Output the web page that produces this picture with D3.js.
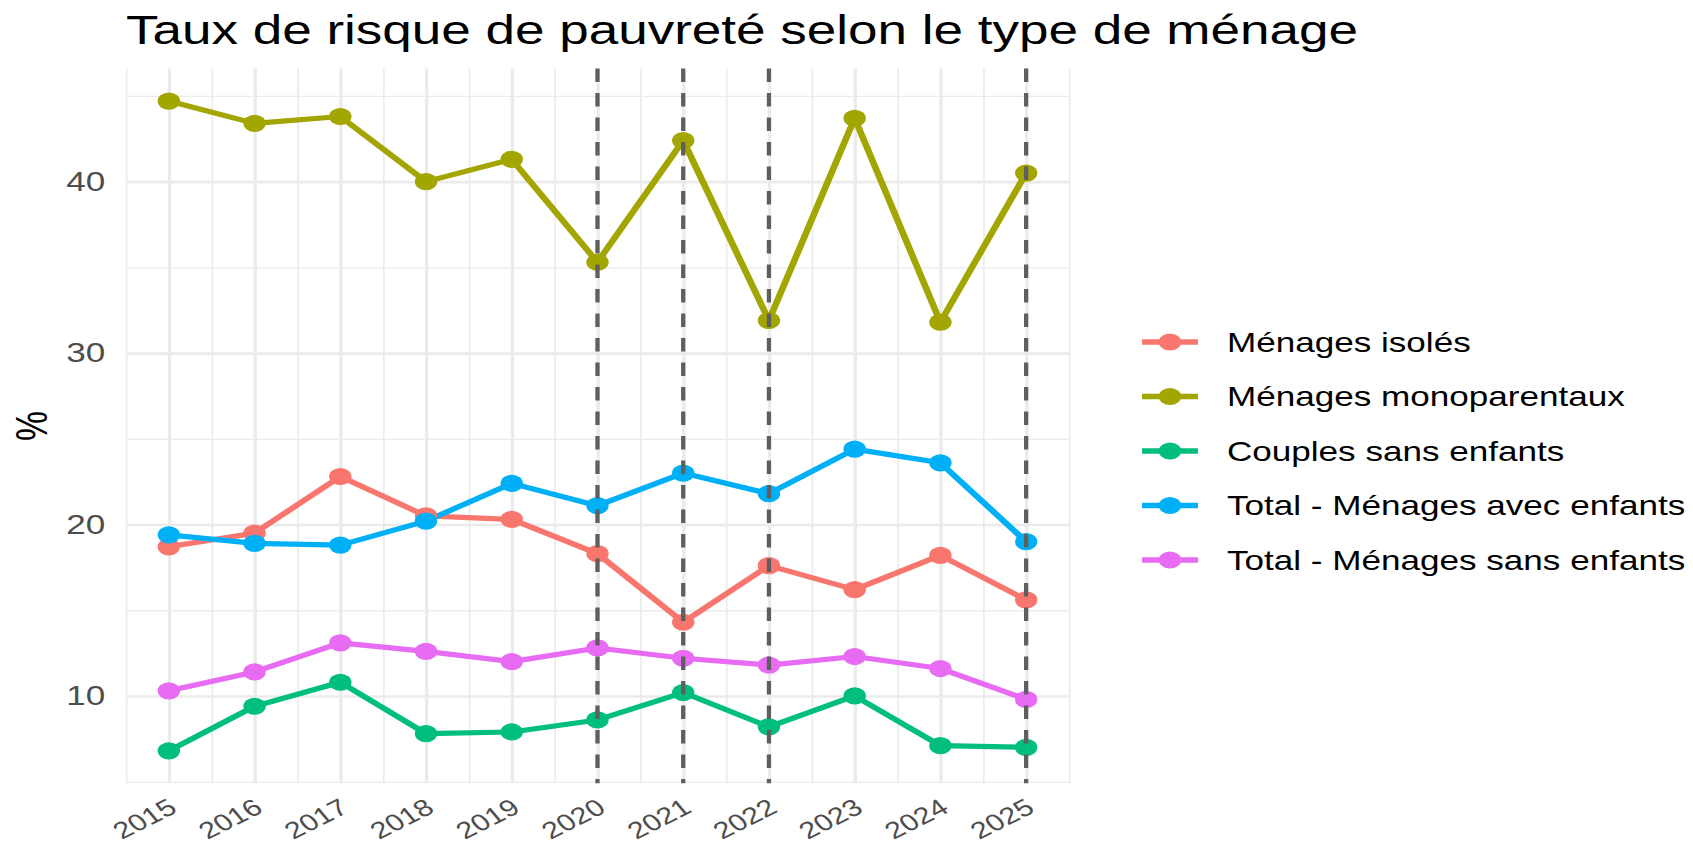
<!DOCTYPE html>
<html>
<head>
<meta charset="utf-8">
<script src="https://cdn.jsdelivr.net/npm/d3@7"></script>
<style>
  html, body { margin: 0; padding: 0; background: #ffffff; }
  svg { display: block; }
  text { font-family: "Liberation Sans", Arial, Helvetica, sans-serif; }
</style>
</head>
<body>
<svg id="chart"></svg>
<script>
// ---- data ----
const years = [2015, 2016, 2017, 2018, 2019, 2020, 2021, 2022, 2023, 2024, 2025];
const seriesNames = [
  "Ménages isolés",
  "Ménages monoparentaux",
  "Couples sans enfants",
  "Total - Ménages avec enfants",
  "Total - Ménages sans enfants"
];
const menagesIsoles       = [18.7, 19.5, 22.8, 20.5, 20.3, 18.3, 14.3, 17.6, 16.2, 18.2, 15.6];
const menagesMonoparent   = [44.7, 43.4, 43.8, 40.0, 41.3, 35.3, 42.4, 31.9, 43.7, 31.8, 40.5];
const couplesSansEnfants  = [6.8, 9.4, 10.8, 7.8, 7.9, 8.6, 10.2, 8.2, 10.0, 7.1, 7.0];
const totalAvecEnfants    = [19.4, 18.9, 18.8, 20.2, 22.4, 21.1, 23.0, 21.8, 24.4, 23.6, 19.0];
const totalSansEnfants    = [10.3, 11.4, 13.1, 12.6, 12.0, 12.8, 12.2, 11.8, 12.3, 11.6, 9.8];
const markedYears = [2020, 2021, 2022, 2025];
const yTicks = [10, 20, 30, 40];
const yMinorTicks = [5, 15, 25, 35, 45];
const colors = ["#F8766D", "#A3A500", "#00BF7D", "#00B0F6", "#E76BF3"];
const titleText = "Taux de risque de pauvreté selon le type de ménage";
const yTitle = "%";

const seriesValues = [menagesIsoles, menagesMonoparent, couplesSansEnfants, totalAvecEnfants, totalSansEnfants];
const series = seriesNames.map((name, i) => ({
  name, color: colors[i],
  values: years.map((yr, j) => ({ year: yr, value: seriesValues[i][j] }))
}));

// ---- layout (drawn in a narrower frame, stretched horizontally like the reference) ----
const W = 1693, H = 846, K = 1.3;
const IW = W / K;
const panel = { left: 96.9, right: 822.3, top: 68.6, bottom: 783.3 };
const fs = 27;
const fsX = 23.5;

const svg = d3.select("#chart")
  .attr("width", W).attr("height", H)
  .attr("viewBox", `0 0 ${IW} ${H}`)
  .attr("preserveAspectRatio", "none");

const allVals = seriesValues.flat();
const vmin = d3.min(allVals), vmax = d3.max(allVals);
const pad = (vmax - vmin) * 0.05;
const y = d3.scaleLinear().domain([vmin - pad, vmax + pad]).range([panel.bottom, panel.top]);
const xPad = (d3.max(years) - d3.min(years)) * 0.05;
const x = d3.scaleLinear().domain([d3.min(years) - xPad, d3.max(years) + xPad]).range([panel.left, panel.right]);
const xMinor = d3.range(d3.min(years) - 0.5, d3.max(years) + 1, 1);

const pw = panel.right - panel.left, ph = panel.bottom - panel.top;

// minor grid
svg.append("g").attr("transform", `translate(${panel.left},0)`)
  .call(d3.axisLeft(y).tickValues(yMinorTicks.filter(v => v >= y.domain()[0] && v <= y.domain()[1])).tickSize(-pw).tickFormat(""))
  .call(g => g.select(".domain").remove())
  .call(g => g.selectAll("line").attr("stroke", "#ebebeb").attr("stroke-width", 1.3));
svg.append("g").attr("transform", `translate(0,${panel.bottom})`)
  .call(d3.axisBottom(x).tickValues(xMinor).tickSize(-ph).tickFormat(""))
  .call(g => g.select(".domain").remove())
  .call(g => g.selectAll("line").attr("stroke", "#ebebeb").attr("stroke-width", 1.3));

// major grid + y labels
svg.append("g").attr("transform", `translate(${panel.left},0)`)
  .call(d3.axisLeft(y).tickValues(yTicks).tickSize(-pw).tickPadding(16).tickFormat(d3.format("d")))
  .call(g => g.select(".domain").remove())
  .call(g => g.selectAll("line").attr("stroke", "#ebebeb").attr("stroke-width", 2.6))
  .call(g => g.selectAll("text").attr("fill", "#4d4d4d").attr("font-size", fs)
      .style("font-family", '"Liberation Sans", Arial, sans-serif'));

// major x grid + labels
svg.append("g").attr("transform", `translate(0,${panel.bottom})`)
  .call(d3.axisBottom(x).tickValues(years).tickSize(-ph).tickFormat(d3.format("d")))
  .call(g => g.select(".domain").remove())
  .call(g => g.selectAll("line").attr("stroke", "#ebebeb").attr("stroke-width", 2.6))
  .call(g => g.selectAll("text")
      .attr("fill", "#4d4d4d").attr("font-size", fsX)
      .style("font-family", '"Liberation Sans", Arial, sans-serif')
      .attr("text-anchor", "end")
      .attr("x", 0).attr("y", 0).attr("dy", "0.72em")
      .attr("transform", "translate(-2,14) rotate(-33)"));

// lines
const line = d3.line().x(d => x(d.year)).y(d => y(d.value));
svg.append("g").selectAll("path").data(series).join("path")
  .attr("d", d => line(d.values))
  .attr("fill", "none").attr("stroke", d => d.color)
  .attr("stroke-width", 5.2).attr("stroke-linejoin", "round").attr("stroke-linecap", "butt");

// points
svg.append("g").selectAll("g").data(series).join("g")
  .attr("fill", d => d.color)
  .selectAll("circle").data(d => d.values).join("circle")
  .attr("cx", d => x(d.year)).attr("cy", d => y(d.value)).attr("r", 8.6);

// dashed vertical lines
svg.append("g").selectAll("line").data(markedYears).join("line")
  .attr("x1", d => x(d)).attr("x2", d => x(d))
  .attr("y1", panel.top).attr("y2", panel.bottom)
  .attr("stroke", "#5f5f5f").attr("stroke-width", 3.3)
  .attr("stroke-dasharray", "13.5,11");

// title
svg.append("text").attr("x", panel.left).attr("y", 44.3)
  .attr("font-size", 40.8).attr("fill", "#000").text(titleText);

// y-axis title
svg.append("text")
  .attr("transform", `translate(24.6,${(panel.top + panel.bottom) / 2}) rotate(-90)`)
  .attr("text-anchor", "middle").attr("dominant-baseline", "central")
  .attr("font-size", 33.75).attr("fill", "#000").text(yTitle);

// legend
const legend = svg.append("g");
const row = legend.selectAll("g").data(series).join("g")
  .attr("transform", (d, i) => `translate(0,${342 + i * 54.5})`);
row.append("line").attr("x1", 878.5).attr("x2", 921.5).attr("y1", 0).attr("y2", 0)
  .attr("stroke", d => d.color).attr("stroke-width", 5.5);
row.append("circle").attr("cx", 900).attr("cy", 0).attr("r", 8.6).attr("fill", d => d.color);
row.append("text").attr("x", 943.8).attr("y", 0).attr("dy", "0.36em")
  .attr("font-size", fs).attr("fill", "#000").text(d => d.name);
</script>
</body>
</html>
